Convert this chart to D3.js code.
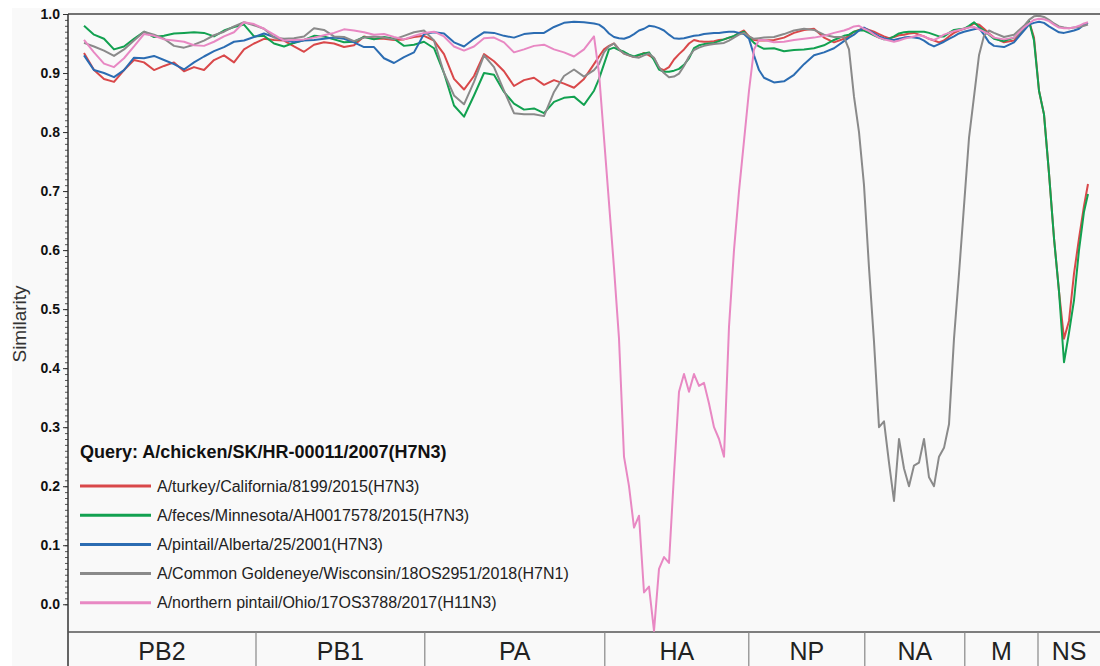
<!DOCTYPE html>
<html>
<head>
<meta charset="utf-8">
<script src="https://cdn.jsdelivr.net/npm/d3@7"></script>
<style>
  body { margin: 0; background: #fff; }
  svg { display: block; font-family: "Liberation Sans", Arial, sans-serif; }
</style>
</head>
<body>
<div id="chart"></div>
<script>
// window centre positions (nt, concatenated genome); denser where the curves dip
var positions = [200,325,450,575,700,825,950,1075,1200,1325,1450,1575,1700,1825,1950,2075,2200,2325,2450,2575,
  2700,2825,2950,3075,3200,3325,3450,3575,3700,3825,3950,4075,4200,4325,4450,4575,4700,4825,4950,5075,
  5200,5325,5450,5575,5700,5825,5950,6075,6200,6325,6450,6575,
  6637.5,6700,6762.5,6825,6887.5,6950,7012.5,7075,7137.5,7200,7262.5,7325,7387.5,7450,7512.5,7575,7637.5,
  7700,7762.5,7825,7887.5,7950,8012.5,8075,8137.5,8200,8262.5,8325,8387.5,8450,8512.5,8575,8637.5,
  8700,8825,8950,9075,9200,9325,9450,9575,9700,
  9762.5,9825,9887.5,9950,10012.5,10075,10137.5,10200,10262.5,10325,10387.5,10450,10512.5,10575,10637.5,
  10700,10762.5,10825,10887.5,10950,11012.5,11075,11137.5,11200,11262.5,11325,11387.5,11450,11512.5,
  11575,11700,11825,11950,
  12012.5,12075,12137.5,12200,12262.5,12325,12387.5,12450,12512.5,12575,12637.5,12700,12750];

var turkey = [0.934,0.905,0.89,0.885,0.905,0.922,0.918,0.905,0.912,0.918,
  0.903,0.91,0.905,0.922,0.93,0.918,0.94,0.95,0.958,0.956,
  0.955,0.945,0.936,0.948,0.952,0.95,0.944,0.947,0.962,0.958,
  0.958,0.956,0.957,0.961,0.963,0.955,0.932,0.89,0.872,0.895,
  0.932,0.92,0.903,0.878,0.888,0.892,0.88,0.888,0.882,0.875,
  0.89,0.915,
  0.928,0.94,0.946,0.95,0.94,0.933,0.93,0.927,0.93,0.934,0.93,0.925,0.908,0.905,0.91,0.923,0.932,
  0.94,0.95,0.956,0.954,0.953,0.953,0.954,0.956,0.957,0.96,0.962,0.968,0.972,0.962,0.956,0.955,
  0.955,0.956,0.96,0.968,0.973,0.975,0.96,0.952,0.958,
  0.963,0.97,0.973,0.976,0.973,0.97,0.966,0.962,0.959,0.961,0.964,0.965,0.967,0.968,0.965,
  0.962,0.958,0.955,0.952,0.955,0.962,0.968,0.972,0.975,0.978,0.984,0.982,0.975,0.967,
  0.96,0.952,0.955,0.975,
  0.988,0.96,0.87,0.83,0.73,0.62,0.53,0.45,0.48,0.56,0.62,0.675,0.712];

var feces = [0.98,0.965,0.958,0.94,0.945,0.958,0.97,0.961,0.963,0.967,
  0.968,0.969,0.968,0.962,0.972,0.978,0.982,0.962,0.963,0.95,
  0.945,0.951,0.956,0.963,0.962,0.957,0.952,0.953,0.961,0.957,
  0.961,0.958,0.946,0.948,0.953,0.942,0.9,0.845,0.826,0.862,
  0.9,0.897,0.868,0.848,0.838,0.84,0.832,0.851,0.858,0.86,
  0.846,0.87,
  0.89,0.915,0.94,0.943,0.939,0.936,0.931,0.928,0.931,0.933,0.935,0.922,0.906,0.902,0.902,0.904,0.907,
  0.914,0.925,0.942,0.947,0.949,0.95,0.951,0.954,0.957,0.96,0.963,0.967,0.97,0.96,0.951,0.945,
  0.941,0.942,0.937,0.939,0.94,0.942,0.947,0.956,0.963,
  0.965,0.97,0.972,0.972,0.968,0.964,0.96,0.957,0.958,0.962,0.967,0.969,0.97,0.97,0.97,
  0.97,0.968,0.965,0.962,0.962,0.968,0.973,0.974,0.975,0.98,0.986,0.978,0.972,0.965,
  0.958,0.954,0.96,0.975,
  0.988,0.955,0.87,0.83,0.73,0.62,0.53,0.41,0.46,0.515,0.6,0.665,0.695];

var pintail = [0.93,0.905,0.9,0.893,0.905,0.926,0.925,0.929,0.922,0.915,
  0.906,0.918,0.928,0.937,0.944,0.953,0.955,0.961,0.967,0.961,
  0.956,0.952,0.955,0.956,0.958,0.96,0.958,0.952,0.944,0.944,
  0.925,0.917,0.927,0.935,0.966,0.969,0.967,0.952,0.945,0.958,
  0.969,0.968,0.963,0.96,0.966,0.968,0.968,0.978,0.985,0.987,
  0.986,0.984,
  0.982,0.976,0.967,0.961,0.959,0.958,0.961,0.966,0.972,0.975,0.98,0.979,0.976,0.972,0.965,0.959,0.958,
  0.959,0.961,0.963,0.964,0.966,0.967,0.968,0.968,0.969,0.97,0.97,0.968,0.966,0.958,0.93,0.905,
  0.892,0.884,0.886,0.897,0.915,0.93,0.935,0.942,0.954,
  0.96,0.965,0.972,0.977,0.972,0.967,0.962,0.959,0.957,0.956,0.958,0.96,0.961,0.96,0.959,
  0.955,0.949,0.945,0.949,0.953,0.958,0.962,0.967,0.97,0.972,0.974,0.976,0.965,0.952,
  0.946,0.944,0.952,0.972,
  0.982,0.985,0.987,0.985,0.979,0.974,0.969,0.968,0.97,0.972,0.975,0.982,0.985];

var goldeneye = [0.951,0.945,0.938,0.929,0.94,0.955,0.97,0.965,0.958,0.946,
  0.943,0.948,0.955,0.964,0.97,0.979,0.986,0.981,0.975,0.96,
  0.958,0.959,0.962,0.976,0.973,0.962,0.961,0.954,0.96,0.962,
  0.96,0.957,0.963,0.969,0.972,0.955,0.9,0.862,0.847,0.885,
  0.93,0.91,0.87,0.832,0.83,0.83,0.827,0.868,0.895,0.906,
  0.894,0.905,
  0.915,0.935,0.945,0.95,0.94,0.933,0.93,0.927,0.926,0.93,0.933,0.926,0.91,0.9,0.893,0.894,0.899,
  0.912,0.928,0.939,0.943,0.946,0.948,0.949,0.95,0.951,0.955,0.96,0.965,0.968,0.962,0.958,0.959,
  0.96,0.961,0.966,0.972,0.975,0.973,0.965,0.961,0.961,
  0.94,0.86,0.8,0.71,0.57,0.445,0.3,0.31,0.24,0.175,0.28,0.23,0.2,0.235,0.24,
  0.28,0.215,0.2,0.25,0.265,0.305,0.45,0.56,0.675,0.79,0.86,0.93,0.963,0.972,
  0.968,0.961,0.965,0.98,
  0.99,0.996,0.997,0.995,0.99,0.984,0.979,0.977,0.976,0.977,0.978,0.98,0.982];

var nPintail = [0.956,0.935,0.916,0.91,0.925,0.945,0.966,0.963,0.957,0.955,
  0.953,0.947,0.946,0.953,0.962,0.969,0.986,0.983,0.975,0.965,
  0.955,0.956,0.957,0.96,0.964,0.968,0.974,0.972,0.969,0.965,
  0.966,0.961,0.957,0.963,0.968,0.97,0.962,0.945,0.938,0.945,
  0.959,0.96,0.952,0.935,0.94,0.946,0.948,0.94,0.935,0.928,
  0.94,0.962,
  0.9,0.79,0.68,0.57,0.45,0.25,0.2,0.13,0.15,0.02,0.03,-0.045,0.06,0.08,0.07,0.22,0.36,
  0.39,0.36,0.39,0.37,0.375,0.34,0.3,0.28,0.25,0.47,0.6,0.7,0.785,0.87,0.94,0.956,
  0.956,0.952,0.953,0.956,0.958,0.96,0.963,0.968,0.972,
  0.975,0.979,0.98,0.975,0.971,0.965,0.96,0.957,0.955,0.953,0.955,0.958,0.96,0.962,0.964,
  0.962,0.958,0.956,0.96,0.965,0.968,0.971,0.973,0.975,0.977,0.978,0.974,0.97,0.966,
  0.96,0.957,0.96,0.977,
  0.984,0.99,0.992,0.991,0.988,0.982,0.977,0.976,0.976,0.977,0.98,0.984,0.986];

var segNames = ["PB2", "PB1", "PA", "HA", "NP", "NA", "M", "NS"];
var segBounds = [0, 2350, 4460, 6710, 8510, 9960, 11210, 12125, 12900];
var yTicks = [0.0, 0.1, 0.2, 0.3, 0.4, 0.5, 0.6, 0.7, 0.8, 0.9, 1.0];

var queryName = "Query: A/chicken/SK/HR-00011/2007(H7N3)";
var seriesNames = ["A/turkey/California/8199/2015(H7N3)",
  "A/feces/Minnesota/AH0017578/2015(H7N3)",
  "A/pintail/Alberta/25/2001(H7N3)",
  "A/Common Goldeneye/Wisconsin/18OS2951/2018(H7N1)",
  "A/northern pintail/Ohio/17OS3788/2017(H11N3)"];
var seriesValues = [turkey, feces, pintail, goldeneye, nPintail];
var seriesColors = ["#d9484a", "#12a150", "#2b6cb2", "#8a8a8a", "#e888c3"];

seriesValues.forEach(function(s, i) {
    if (s.length !== positions.length) throw new Error("series " + i + " has " + s.length + " values, expected " + positions.length);
});

var W = 1100, H = 666;
var margin = { top: 14, right: 0, bottom: 34, left: 68 },
    w = W - margin.left - margin.right,
    h = H - margin.top - margin.bottom;

var root = d3.select("#chart").append("svg")
    .attr("width", W)
    .attr("height", H);

root.append("rect")
    .attr("x", 12).attr("y", 8)
    .attr("width", W - 12).attr("height", H - 8)
    .attr("fill", "#f9f9f9");

var svg = root.append("g")
    .attr("transform", "translate(" + margin.left + "," + margin.top + ")");

var x = d3.scaleLinear().domain([0, 12900]).range([0, w]);
var y = d3.scaleLinear().domain([-0.047, 1.0]).range([h, 0]);

// minor ticks every 0.01
svg.append("g")
    .attr("class", "yminor")
    .call(d3.axisLeft(y).tickValues(d3.range(0, 101).map(function(i) { return i / 100; }))
        .tickSize(3).tickFormat(""))
    .call(function(g) { g.select(".domain").remove(); })
    .selectAll("line").attr("stroke", "#555");

var yax = svg.append("g")
    .attr("class", "yax")
    .call(d3.axisLeft(y).tickValues(yTicks).tickSize(5).tickPadding(3).tickFormat(d3.format(".1f")));
yax.select(".domain").remove();
yax.selectAll("line").attr("stroke", "#333");
yax.selectAll("text")
    .attr("font-size", 14)
    .attr("font-weight", "bold")
    .attr("fill", "#111")
    .attr("font-family", "'Liberation Sans', Arial, sans-serif");

// frame lines
svg.append("line")
    .attr("x1", 0).attr("x2", w).attr("y1", 0).attr("y2", 0)
    .attr("stroke", "#444").attr("stroke-width", 1.5);
svg.append("line")
    .attr("x1", 0).attr("x2", 0).attr("y1", 0).attr("y2", H - margin.top)
    .attr("stroke", "#333").attr("stroke-width", 1.5);
svg.append("line")
    .attr("x1", 0).attr("x2", w).attr("y1", h).attr("y2", h)
    .attr("stroke", "#555").attr("stroke-width", 1.5);

// segment band
svg.selectAll("line.sep")
    .data(segBounds.slice(1, -1))
    .enter().append("line")
    .attr("class", "sep")
    .attr("x1", function(d) { return x(d); })
    .attr("x2", function(d) { return x(d); })
    .attr("y1", h).attr("y2", H - margin.top)
    .attr("stroke", "#888").attr("stroke-width", 1.2);

svg.selectAll("text.seg")
    .data(segNames)
    .enter().append("text")
    .attr("class", "seg")
    .attr("x", function(d, i) { return (x(segBounds[i]) + x(segBounds[i + 1])) / 2; })
    .attr("y", h + 28)
    .attr("text-anchor", "middle")
    .attr("font-size", 25)
    .attr("fill", "#222")
    .text(function(d) { return d; });

svg.append("text")
    .attr("transform", "translate(" + (21 - margin.left) + "," + (h / 2 + 1) + ") rotate(-90)")
    .attr("text-anchor", "middle")
    .attr("dominant-baseline", "middle")
    .attr("font-size", 19)
    .attr("fill", "#333")
    .text("Similarity");

// clip + lines
svg.append("clipPath").attr("id", "clip")
    .append("rect").attr("x", 0).attr("y", 0).attr("width", w).attr("height", h);

var line = d3.line()
    .x(function(d, i) { return x(positions[i]); })
    .y(function(d) { return y(d); });

svg.append("g").attr("clip-path", "url(#clip)")
    .selectAll("path.series")
    .data(seriesValues)
    .enter().append("path")
    .attr("class", "series")
    .attr("d", line)
    .attr("fill", "none")
    .attr("stroke", function(d, i) { return seriesColors[i]; })
    .attr("stroke-width", 2)
    .attr("stroke-linejoin", "round");

// legend
var leg = svg.append("g").attr("transform", "translate(12," + (458 - margin.top) + ")");
leg.append("text")
    .attr("x", 0).attr("y", 0)
    .attr("font-size", 18)
    .attr("font-weight", "bold")
    .attr("fill", "#111")
    .text(queryName);

var item = leg.selectAll("g.item")
    .data(seriesNames)
    .enter().append("g")
    .attr("class", "item")
    .attr("transform", function(d, i) { return "translate(0," + (28 + i * 29.2) + ")"; });
item.append("line")
    .attr("x1", 0).attr("x2", 71).attr("y1", 0).attr("y2", 0)
    .attr("stroke", function(d, i) { return seriesColors[i]; })
    .attr("stroke-width", 3);
item.append("text")
    .attr("x", 77).attr("y", 0)
    .attr("dy", "0.35em")
    .attr("font-size", 16)
    .attr("fill", "#222")
    .text(function(d) { return d; });
</script>
</body>
</html>
